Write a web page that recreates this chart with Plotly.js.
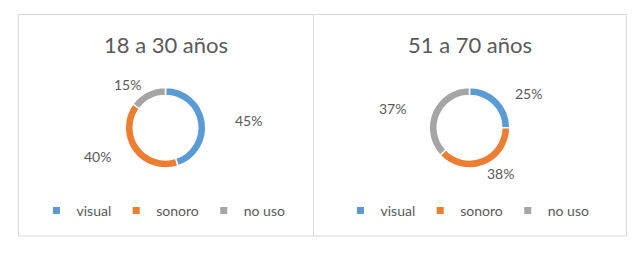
<!DOCTYPE html>
<html>
<head>
<meta charset="utf-8">
<script src="https://cdn.plot.ly/plotly-3.0.1.min.js"></script>
<style>html,body{margin:0;padding:0;background:#fff;}#chart{width:640px;height:253px;}</style>
</head>
<body>
<div id="chart"></div>
<script>
// ---- data ----
const categories = ['visual', 'sonoro', 'no uso'];
const groupTitles = ['18 a 30 años', '51 a 70 años'];
const valuesYoung = [45, 40, 15];
const valuesOld = [25, 38, 37];
const sliceColors = ['#5B9BD5', '#ED7D31', '#A5A5A5'];

// ---- layout constants ----
const W = 640, H = 253;
const FONT = 'Lato, "Open Sans", sans-serif';
const TXT = '#595959';
const panels = [{x0: 18, x1: 313}, {x0: 313, x1: 626}];
const panelY0 = 14.5, panelY1 = 236;
const donutCy = 127.7, donutR = 40.3;
const titleY = 45, legendY = 211, legendShift = -2;
const labelRx = 84, labelRy = 49;
const px = v => v / W;
const py = v => 1 - v / H;

const seriesList = [valuesYoung, valuesOld];
const traces = [];
const annotations = [];
const shapes = [];

seriesList.forEach((vals, i) => {
  const p = panels[i];
  const cx = (p.x0 + p.x1) / 2;
  traces.push({
    type: 'pie',
    values: vals,
    labels: categories,
    marker: {colors: sliceColors, line: {color: '#ffffff', width: 1.5}},
    hole: 0.8,
    sort: false,
    direction: 'clockwise',
    rotation: 0,
    textinfo: 'none',
    hoverinfo: 'none',
    showlegend: false,
    domain: {
      x: [px(cx - donutR), px(cx + donutR)],
      y: [py(donutCy + donutR), py(donutCy - donutR)]
    }
  });
  // legend entries
  categories.forEach((c, k) => {
    traces.push({
      type: 'scatter', mode: 'markers', x: [null], y: [null],
      name: c, legend: i === 0 ? 'legend' : 'legend2',
      marker: {symbol: 'square', size: 7, color: sliceColors[k]},
      showlegend: true, hoverinfo: 'skip'
    });
  });
  // data labels placed around the donut at each slice's mid angle
  const total = vals.reduce((a, b) => a + b, 0);
  let cum = 0;
  vals.forEach(v => {
    const mid = (cum + v / 2) / total * 2 * Math.PI;
    cum += v;
    annotations.push({
      xref: 'paper', yref: 'paper',
      x: px(cx + labelRx * Math.sin(mid)),
      y: py(donutCy - labelRy * Math.cos(mid)),
      xanchor: 'center', yanchor: 'middle',
      text: Math.round(v / total * 100) + '%',
      showarrow: false,
      font: {family: FONT, size: 14, color: TXT}
    });
  });
  annotations.push({
    xref: 'paper', yref: 'paper', x: px(cx), y: py(titleY),
    xanchor: 'center', yanchor: 'middle', text: groupTitles[i], showarrow: false,
    font: {family: FONT, size: 22, color: TXT}
  });
  shapes.push({
    type: 'rect', xref: 'paper', yref: 'paper',
    x0: px(p.x0 + 0.5), x1: px(p.x1 + 0.5), y0: py(panelY1), y1: py(panelY0),
    line: {color: '#D9D9D9', width: 1}, fillcolor: 'rgba(0,0,0,0)', layer: 'below'
  });
});

const legendBase = {
  orientation: 'h', xanchor: 'center', yanchor: 'middle', y: py(legendY),
  font: {family: FONT, size: 14, color: TXT}, bgcolor: 'rgba(0,0,0,0)',
  itemclick: false, itemdoubleclick: false, traceorder: 'normal'
};

const layout = {
  width: W, height: H,
  margin: {l: 0, r: 0, t: 0, b: 0},
  paper_bgcolor: '#ffffff', plot_bgcolor: '#ffffff',
  font: {family: FONT, color: TXT},
  xaxis: {visible: false}, yaxis: {visible: false},
  legend: Object.assign({}, legendBase, {x: px((panels[0].x0 + panels[0].x1) / 2 + legendShift)}),
  legend2: Object.assign({}, legendBase, {x: px((panels[1].x0 + panels[1].x1) / 2 + legendShift)}),
  annotations: annotations,
  shapes: shapes
};

Plotly.newPlot('chart', traces, layout, {staticPlot: true, displayModeBar: false});
</script>
</body>
</html>
